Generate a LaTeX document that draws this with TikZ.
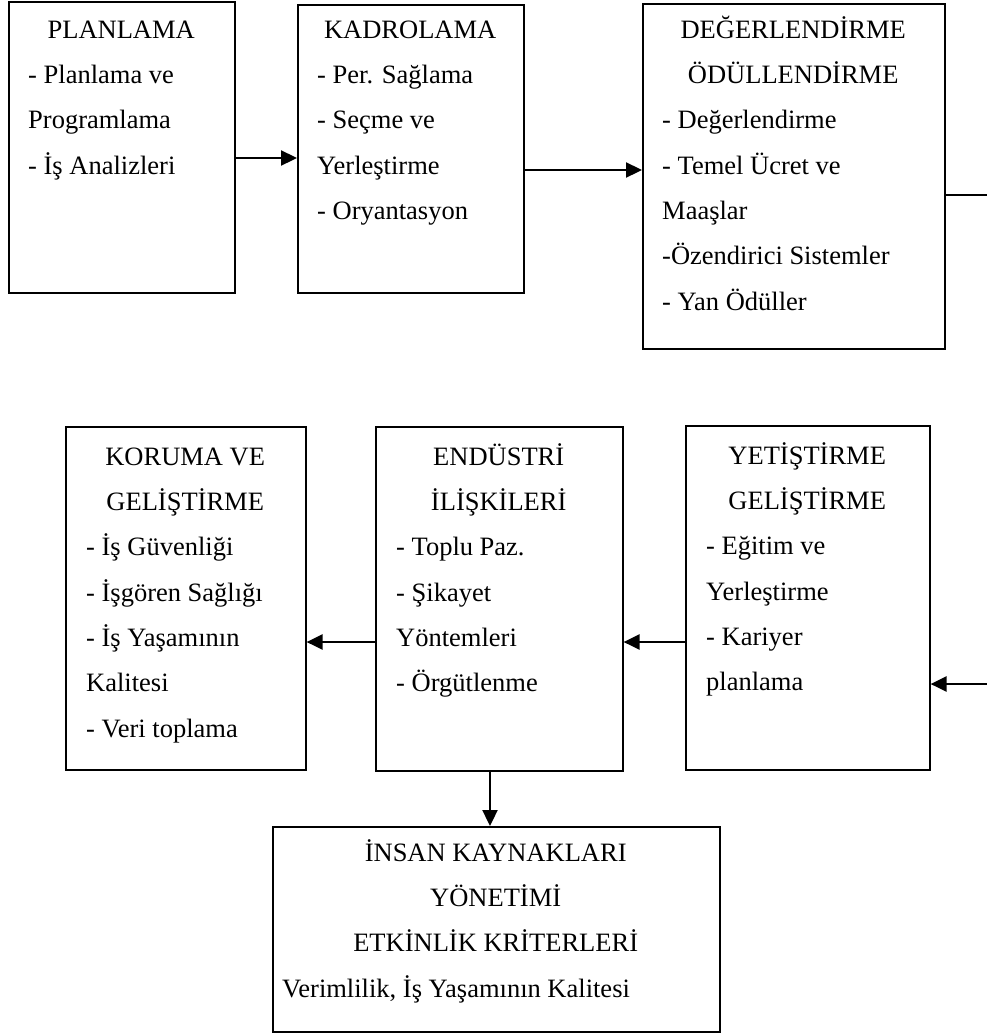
\documentclass[tikz,border=0pt]{standalone}
\usepackage{fontspec}
\setmainfont{Liberation Serif}
\usetikzlibrary{arrows.meta}
% a heading line centred over the given width (in pt)
\newcommand{\boxhead}[2]{\hbox to #1pt{\hss#2\hss}}
\newcommand{\firstline}{\rule{0pt}{25pt}}
\begin{document}
\begin{tikzpicture}[x=1pt,y=-1pt,
  frame/.style={draw, line width=1.6pt, inner sep=0pt, anchor=north west},
  txt/.style={anchor=north west, inner sep=0pt, align=left,
              font=\fontsize{26.5}{45.3}\selectfont},
  conn/.style={line width=2.3pt, -{Triangle[length=16pt,width=15pt]}},
  link/.style={line width=2.3pt}]
\path[use as bounding box, fill=white] (0,0) rectangle (986,1034);

% top row
\node[frame, minimum width=226pt, minimum height=291pt] (plan) at (8,1) {};
\node[txt] (plantxt) at (28,13) {\boxhead{186}{\firstline PLANLAMA}\\
  - Planlama ve\\Programlama\\- İş Analizleri};

\node[frame, minimum width=226pt, minimum height=288pt] (kadro) at (297,4) {};
\node[txt] (kadrotxt) at (317,13) {\boxhead{186}{\firstline KADROLAMA}\\
  - Per. Sağlama\\- Seçme ve\\Yerleştirme\\- Oryantasyon};

\node[frame, minimum width=302pt, minimum height=345pt] (deger) at (642,3) {};
\node[txt] (degertxt) at (662,13) {\boxhead{262}{\firstline DEĞERLENDİRME}\\
  \boxhead{262}{ÖDÜLLENDİRME}\\
  - Değerlendirme\\- Temel Ücret ve\\Maaşlar\\-Özendirici Sistemler\\- Yan Ödüller};

% bottom row
\node[frame, minimum width=240pt, minimum height=343pt] (koruma) at (65,426) {};
\node[txt] (korumatxt) at (86,440) {\boxhead{198}{\firstline KORUMA VE}\\
  \boxhead{198}{GELİŞTİRME}\\
  - İş Güvenliği\\- İşgören Sağlığı\\- İş Yaşamının\\Kalitesi\\- Veri toplama};

\node[frame, minimum width=247pt, minimum height=344pt] (endus) at (375,426) {};
\node[txt] (endustxt) at (396,440) {\boxhead{205}{\firstline ENDÜSTRİ}\\
  \boxhead{205}{İLİŞKİLERİ}\\
  - Toplu Paz.\\- Şikayet\\Yöntemleri\\- Örgütlenme};

\node[frame, minimum width=244pt, minimum height=344pt] (yetis) at (685,425) {};
\node[txt] (yetistxt) at (706,439) {\boxhead{202}{\firstline YETİŞTİRME}\\
  \boxhead{202}{GELİŞTİRME}\\
  - Eğitim ve\\Yerleştirme\\- Kariyer\\planlama};

% result box
\node[frame, minimum width=447pt, minimum height=205pt] (insan) at (272,826) {};
\node[txt] (insantxt) at (282,836) {\boxhead{427}{\firstline İNSAN KAYNAKLARI}\\
  \boxhead{427}{YÖNETİMİ}\\
  \boxhead{427}{ETKİNLİK KRİTERLERİ}\\
  Verimlilik, İş Yaşamının Kalitesi};

% connectors
\draw[conn] (plan.east |- 0,158) -- (kadro.west |- 0,158);
\draw[conn] (kadro.east |- 0,170) -- (deger.west |- 0,170);
\coordinate (edgeA) at (1000,195);
\coordinate (edgeB) at (1000,684);
\draw[link] (deger.east |- edgeA) -- (edgeA) -- (edgeB);
\draw[conn] (edgeB) -- (yetis.east |- edgeB);
\draw[conn] (yetis.west |- 0,642) -- (endus.east |- 0,642);
\draw[conn] (endus.west |- 0,642) -- (koruma.east |- 0,642);
\draw[conn] (endus.south -| 490,0) -- (insan.north -| 490,0);
\end{tikzpicture}
\end{document}
